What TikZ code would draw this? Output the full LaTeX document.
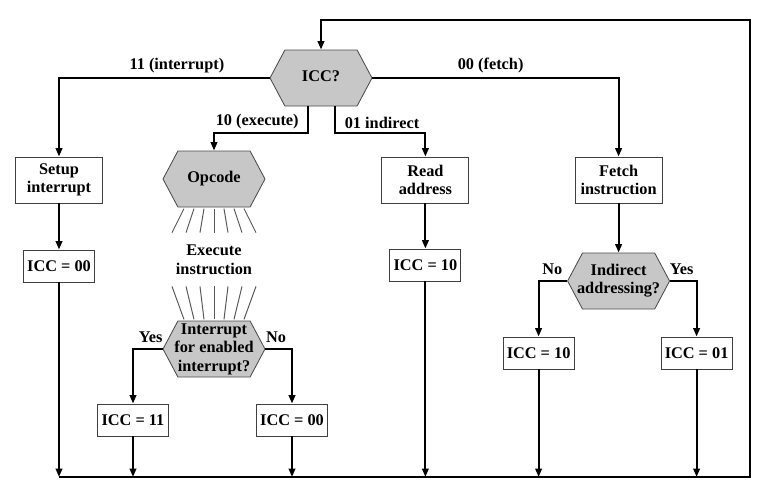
\documentclass[tikz,border=0pt]{standalone}
\usepackage{fontspec}
\setmainfont{Liberation Serif}
\usetikzlibrary{shapes.symbols,arrows.meta}

\newcommand{\fonte}{\fontsize{11.6}{13.2}\selectfont\bfseries}
\newcommand{\hexatexto}[1]{\makebox[0pt]{\begin{tabular}{@{}c@{}}#1\end{tabular}}}

\begin{document}
\begin{tikzpicture}[node distance=2.15cm,>={Triangle[length=6pt,width=4.6pt]},line width=1.5pt]

  \tikzstyle{caixa}=[rectangle,draw=black!75,line width=0.6pt,fill=white,align=center,inner sep=2pt,font=\fonte]
  \tikzstyle{dupla}=[caixa,minimum width=2.175cm,minimum height=1.15cm]
  \tikzstyle{estado}=[caixa,minimum width=1.775cm,minimum height=0.8cm]
  \tikzstyle{decisao}=[signal,signal to=east and west,signal pointer angle=124,draw=black!70,line width=0.6pt,fill=black!22,inner sep=0pt,minimum width=2.55cm,minimum height=1.4cm,font=\fonte]
  \tikzstyle{texto}=[align=center,font=\fonte]
  \tikzstyle{rotulo}=[inner sep=2.5pt,font=\fonte]
  \tikzstyle{raio}=[draw=black!65,line width=0.7pt]

  \useasboundingbox (-8.025,-10.45) rectangle (11.475,1.95);

  \begin{scope}

    \node [decisao] (t1) at (0,0) {\hexatexto{ICC?}};

    \node [dupla] (t2) [below of=t1,xshift=-6.55cm,yshift=-.4cm] {Setup\\interrupt};

    \node [decisao] (t3) [below of=t1,xshift=-2.675cm,yshift=-.375cm] {\hexatexto{Opcode}};

    \node [dupla] (t4) [below of=t1,xshift=2.61cm,yshift=-.4cm] {Read\\address};

    \node [dupla] (t5) [below of=t1,xshift=7.44cm,yshift=-.4cm] {Fetch\\instruction};

    \node [estado] (t6) [below of=t2] {ICC = 00};

    \node [estado] (t7) [below of=t4,yshift=.025cm] {ICC = 10};

    \node [texto] (t8) [below of=t3,yshift=.125cm] {Execute\\instruction};

    \node [decisao] (t9) [below of=t8,yshift=-.075cm] {\hexatexto{Interrupt\\for enabled\\interrupt?}};

    \node [decisao] (t10) [below of=t5,yshift=-.375cm] {\hexatexto{Indirect\\addressing?}};

    \node [estado] (t11) [below of=t9,xshift=-2.025cm,yshift=.375cm] {ICC = 11};

    \node [estado] (t12) [below of=t9,xshift=1.95cm,yshift=.375cm] {ICC = 00};

    \node [estado] (t13) [below of=t10,xshift=-2cm,yshift=.35cm] {ICC = 10};

    \node [estado] (t14) [below of=t10,xshift=1.95cm,yshift=.35cm] {ICC = 01};

    \coordinate (c1) at (10.725,-9.975);
    \coordinate (c2) at (10.725,1.45);

    \draw [->] (t1.west) -| node [rotulo,pos=.22,above] {11 (interrupt)} (t2);
    \draw [->] (t1.east) -| node [rotulo,pos=.24,above] {00 (fetch)} (t5);
    \draw [->] ([xshift=-.325cm]t1.south) -- ++(0,-.675) -| node [rotulo,pos=.27,above] {10 (execute)} (t3);
    \draw [->] ([xshift=.35cm]t1.south) -- ++(0,-.675) -| node [rotulo,pos=.26,above] {01 indirect} (t4);

    \draw [->] (t2) -- (t6);
    \draw [->] (t4) -- (t7);
    \draw [->] (t5) -- (t10);

    \draw [->] (t9.west) -| node [rotulo,pos=.2,above,yshift=1.5pt] {Yes} (t11);
    \draw [->] (t9.east) -| node [rotulo,pos=.2,above,yshift=1.5pt] {No} (t12);
    \draw [->] (t10.west) -| node [rotulo,pos=.26,above,yshift=1.5pt] {No} (t13);
    \draw [->] (t10.east) -| node [rotulo,pos=.22,above,yshift=1.5pt] {Yes} (t14);

    \foreach \i in {-3,...,3}
      \draw [raio] ([xshift=\i*.25cm,yshift=-.03cm]t3.south) -- ++(\i*.1cm,-.6cm);
    \foreach \i in {-3,...,3}
      \draw [raio] ([xshift=\i*.25cm,yshift=.03cm]t9.north) -- ++(\i*.1cm,.825cm);

    \foreach \n in {t6,t7,t11,t12,t13,t14}
      \draw [->] (\n) -- (\n |- c1);

    \draw [->] (t6 |- c1) -- (c1) -- (c2) -| (t1);

  \end{scope}

\end{tikzpicture}
\end{document}
